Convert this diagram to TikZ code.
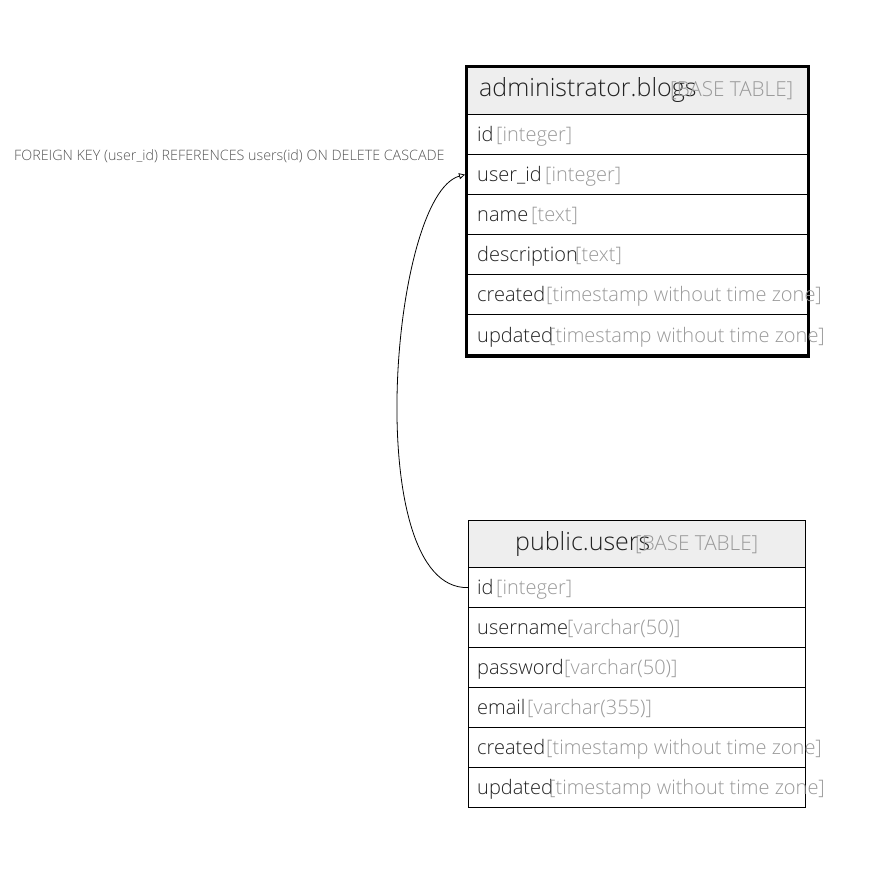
\documentclass[tikz,border=0pt]{standalone}
\usepackage{fontspec}
\setmainfont{Open Sans}[UprightFont={* Light}]
\usetikzlibrary{arrows.meta}
\definecolor{namec}{HTML}{222222}
\definecolor{typec}{HTML}{999999}
\definecolor{headc}{HTML}{EEEEEE}
\definecolor{labc}{HTML}{555555}
\tikzset{
  rowbox/.style={draw=black, line width=1.2pt, inner sep=0pt, anchor=north west},
  headbox/.style={rowbox, fill=headc},
  fname/.style={anchor=base west, inner sep=0pt, text=namec, font=\fontsize{20}{23}\selectfont},
  ftype/.style={anchor=base west, inner sep=0pt, text=typec, font=\fontsize{20}{23}\selectfont},
  tname/.style={anchor=base west, inner sep=0pt, text=namec, font=\fontsize{25}{29}\selectfont},
  ttype/.style={anchor=base west, inner sep=0pt, text=typec, font=\fontsize{20.7}{24}\selectfont},
  fklabel/.style={anchor=base west, inner sep=0pt, text=labc, font=\fontsize{14.3}{17}\selectfont},
  fkline/.style={draw=black, line width=0.8pt}
}
\begin{document}
\begin{tikzpicture}[x=1pt,y=-1pt]
\useasboundingbox (0,0) rectangle (871,869);
% ---- administrator.blogs ----
\node[headbox, minimum width=342pt, minimum height=49pt] (bh) at (465,65) {};
\node[rowbox, minimum width=342pt, minimum height=40pt] (b1) at (465,114) {};
\node[rowbox, minimum width=342pt, minimum height=40pt] (b2) at (465,154) {};
\node[rowbox, minimum width=342pt, minimum height=40pt] (b3) at (465,194) {};
\node[rowbox, minimum width=342pt, minimum height=40pt] (b4) at (465,234) {};
\node[rowbox, minimum width=342pt, minimum height=40pt] (b5) at (465,274) {};
\node[rowbox, minimum width=342pt, minimum height=40pt] (b6) at (465,314) {};
\node[draw=black, line width=3pt, inner sep=0pt, anchor=north west, minimum width=342pt, minimum height=290pt] (bout) at (465,65) {};
\node[tname] (bht) at (479,97) {administrator.blogs};
\node[ttype] (bhy) at (670,97) {[BASE TABLE]};
\node[fname] (b1n) at (477,142) {id};
\node[ftype] (b1t) at (496,142) {[integer]};
\node[fname] (b2n) at (477,182) {user\_id};
\node[ftype] (b2t) at (545,182) {[integer]};
\node[fname] (b3n) at (477,222) {name};
\node[ftype] (b3t) at (531,222) {[text]};
\node[fname] (b4n) at (477,262) {description};
\node[ftype] (b4t) at (575,262) {[text]};
\node[fname] (b5n) at (477,302) {created};
\node[ftype] (b5t) at (546,302) {[timestamp without time zone]};
\node[fname] (b6n) at (477,342) {updated};
\node[ftype] (b6t) at (549,342) {[timestamp without time zone]};
% ---- public.users ----
\node[headbox, minimum width=337pt, minimum height=47pt] (uh) at (468,520) {};
\node[rowbox, minimum width=337pt, minimum height=40pt] (u1) at (468,567) {};
\node[rowbox, minimum width=337pt, minimum height=40pt] (u2) at (468,607) {};
\node[rowbox, minimum width=337pt, minimum height=40pt] (u3) at (468,647) {};
\node[rowbox, minimum width=337pt, minimum height=40pt] (u4) at (468,687) {};
\node[rowbox, minimum width=337pt, minimum height=40pt] (u5) at (468,727) {};
\node[rowbox, minimum width=337pt, minimum height=40pt] (u6) at (468,767) {};
\node[tname] (uht) at (515,550) {public.users};
\node[ttype] (uhy) at (635,550) {[BASE TABLE]};
\node[fname] (u1n) at (477,594) {id};
\node[ftype] (u1t) at (496,594) {[integer]};
\node[fname] (u2n) at (477,634) {username};
\node[ftype] (u2t) at (567,634) {[varchar(50)]};
\node[fname] (u3n) at (477,674) {password};
\node[ftype] (u3t) at (564,674) {[varchar(50)]};
\node[fname] (u4n) at (477,714) {email};
\node[ftype] (u4t) at (527,714) {[varchar(355)]};
\node[fname] (u5n) at (477,754) {created};
\node[ftype] (u5t) at (546,754) {[timestamp without time zone]};
\node[fname] (u6n) at (477,794) {updated};
\node[ftype] (u6t) at (549,794) {[timestamp without time zone]};
% ---- foreign key ----
\node[fklabel] (fk) at (14,161) {FOREIGN KEY (user\_id) REFERENCES users(id) ON DELETE CASCADE};
\draw[fkline, -{Triangle[open, length=6pt, width=6pt]}] (u1.west) .. controls (360,590) and (390,195) .. (b2.west);
\end{tikzpicture}
\end{document}
